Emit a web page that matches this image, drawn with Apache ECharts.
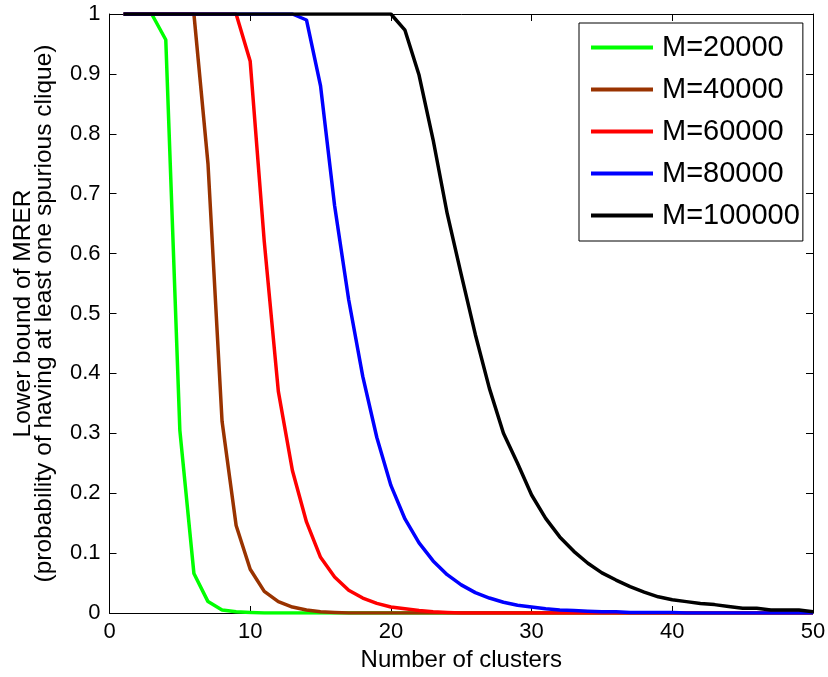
<!DOCTYPE html>
<html>
<head>
<meta charset="utf-8">
<script src="https://cdn.jsdelivr.net/npm/echarts@6/dist/echarts.min.js"></script>
<style>html,body{margin:0;padding:0;background:#fff;}#c{width:828px;height:677px;}</style>
</head>
<body>
<div id="c"></div>
<script>
var clusters = [1,2,3,4,5,6,7,8,9,10,11,12,13,14,15,16,17,18,19,20,21,22,23,24,25,26,27,28,29,30,31,32,33,34,35,36,37,38,39,40,41,42,43,44,45,46,47,48,49,50];
var seriesNames = ['M=20000','M=40000','M=60000','M=80000','M=100000'];
var m20000 = [1,1,1,0.957,0.305,0.066,0.019,0.005,0.002,0.001,0,0,0,0,0,0,0,0,0,0,0,0,0,0,0,0,0,0,0,0,0,0,0,0,0,0,0,0,0,0,0,0,0,0,0,0,0,0,0,0];
var m40000 = [1,1,1,1,1,1,0.75,0.32,0.146,0.073,0.036,0.019,0.01,0.005,0.002,0.001,0,0,0,0,0,0,0,0,0,0,0,0,0,0,0,0,0,0,0,0,0,0,0,0,0,0,0,0,0,0,0,0,0,0];
var m60000 = [1,1,1,1,1,1,1,1,1,0.921,0.62,0.37,0.238,0.152,0.093,0.06,0.038,0.025,0.016,0.01,0.007,0.004,0.002,0.001,0,0,0,0,0,0,0,0,0,0,0,0,0,0,0,0,0,0,0,0,0,0,0,0,0,0];
var m80000 = [1,1,1,1,1,1,1,1,1,1,1,1,1,0.99,0.88,0.68,0.523,0.395,0.293,0.213,0.157,0.117,0.087,0.064,0.047,0.034,0.025,0.018,0.013,0.01,0.007,0.005,0.004,0.003,0.002,0.002,0.001,0.001,0.001,0.001,0,0,0,0,0,0,0,0,0,0];
var m100000 = [1,1,1,1,1,1,1,1,1,1,1,1,1,1,1,1,1,1,1,1,0.973,0.898,0.79,0.667,0.565,0.465,0.375,0.30,0.25,0.197,0.158,0.127,0.103,0.083,0.067,0.055,0.044,0.035,0.027,0.022,0.019,0.016,0.014,0.011,0.008,0.008,0.005,0.005,0.005,0.002];
var xTicks = [0,10,20,30,40,50];
var yTicks = [0,0.1,0.2,0.3,0.4,0.5,0.6,0.7,0.8,0.9,1];

var colors = ['#00ff00','#993300','#ff0000','#0000ff','#000000'];
var allData = [m20000,m40000,m60000,m80000,m100000];
var FONT = 'Liberation Sans';

function pairs(arr){ return clusters.map(function(x,i){ return [x, arr[i]]; }); }

var chart = echarts.init(document.getElementById('c'), null, {renderer:'canvas'});
var axisLine = {show:true, onZero:false, lineStyle:{color:'#000', width:1}};
var option = {
  animation:false,
  backgroundColor:'#fff',
  textStyle:{fontFamily:FONT},
  grid:{left:109.5, right:15, top:14, bottom:64, containLabel:false, outerBoundsMode:'none'},
  legend:{
    data:seriesNames, orient:'vertical', left:579, top:23,
    backgroundColor:'#fff', borderColor:'#000', borderWidth:1,
    padding:[10,3,11,12], itemGap:13, itemWidth:62, itemHeight:4, icon:'rect',
    textStyle:{fontFamily:FONT, fontSize:29, color:'#000', padding:[0,0,0,4]}
  },
  xAxis:[{
    type:'value', min:0, max:50, interval:10, position:'bottom',
    name:'Number of clusters', nameLocation:'middle', nameGap:34,
    nameTextStyle:{fontFamily:FONT, fontSize:24, color:'#000'},
    axisLine:axisLine, axisTick:{show:true, inside:true, length:7, lineStyle:{color:'#000'}},
    axisLabel:{fontFamily:FONT, fontSize:22, color:'#000', margin:8, formatter:function(v){return xTicks.indexOf(v)>=0?String(v):'';}},
    splitLine:{show:false}
  },{
    type:'value', min:0, max:50, interval:10, position:'top',
    axisLine:axisLine, axisTick:{show:true, inside:true, length:7, lineStyle:{color:'#000'}},
    axisLabel:{show:false}, splitLine:{show:false}
  }],
  yAxis:[{
    type:'value', min:0, max:1, interval:0.1, position:'left',
    name:'Lower bound of MRER\n(probability of having at least one spurious clique)',
    nameLocation:'middle', nameGap:55, nameRotate:90,
    nameTextStyle:{fontFamily:FONT, fontSize:24.5, color:'#000', lineHeight:21},
    axisLine:axisLine, axisTick:{show:true, inside:true, length:7, lineStyle:{color:'#000'}},
    axisLabel:{fontFamily:FONT, fontSize:22, color:'#000', margin:9, formatter:function(v){
      for (var i=0;i<yTicks.length;i++){ if (Math.abs(yTicks[i]-v)<1e-9) return String(yTicks[i]); } return ''; }},
    splitLine:{show:false}
  },{
    type:'value', min:0, max:1, interval:0.1, position:'right',
    axisLine:axisLine, axisTick:{show:true, inside:true, length:7, lineStyle:{color:'#000'}},
    axisLabel:{show:false}, splitLine:{show:false}
  }],
  series: seriesNames.map(function(n,i){
    return {name:n, type:'line', data:pairs(allData[i]), xAxisIndex:0, yAxisIndex:0,
      showSymbol:false, symbol:'none', color:colors[i],
      lineStyle:{color:colors[i], width:3.5}, itemStyle:{color:colors[i]}, z:2+i};
  })
};
chart.setOption(option);
</script>
</body>
</html>
